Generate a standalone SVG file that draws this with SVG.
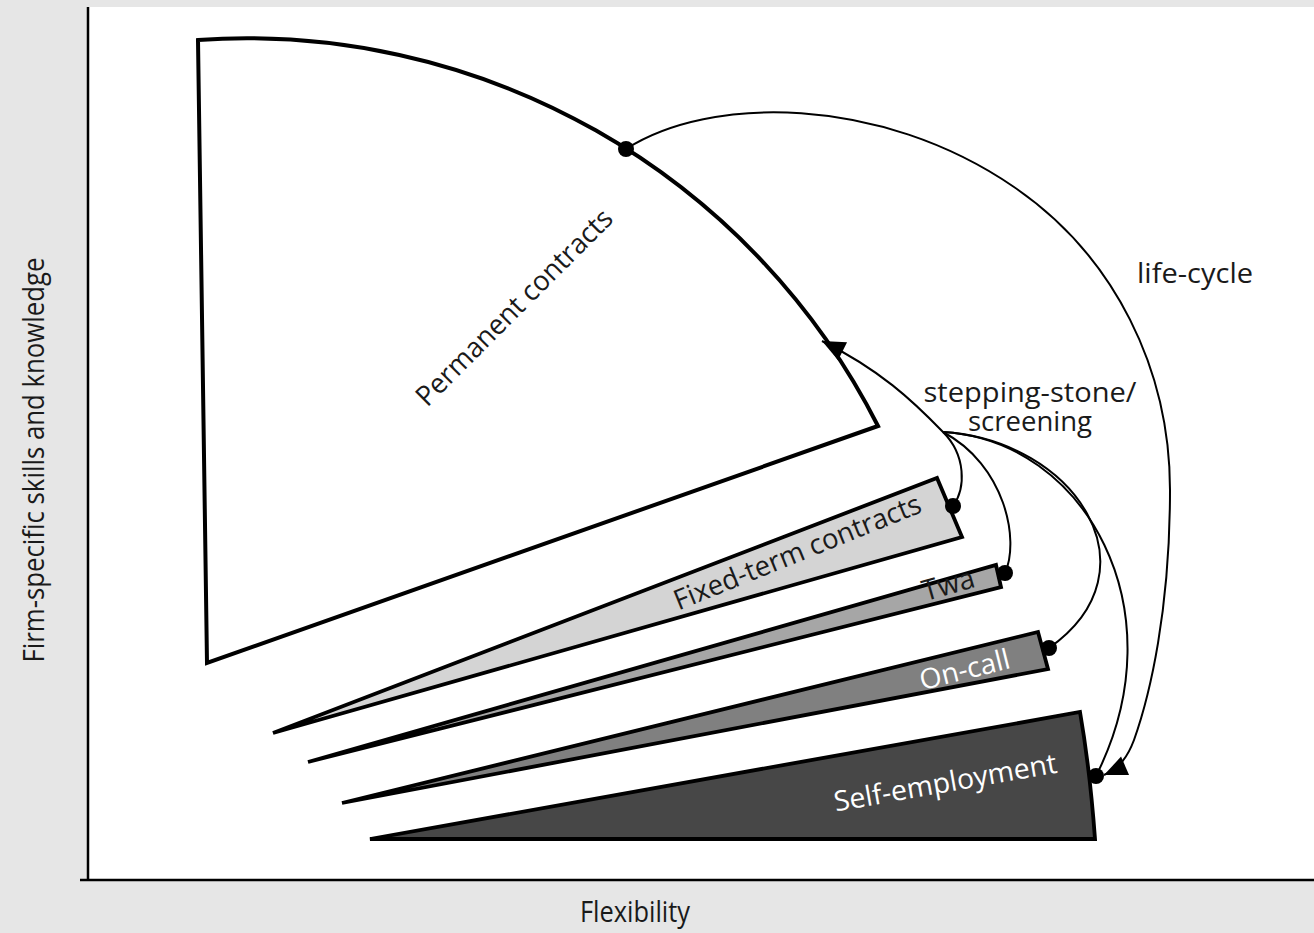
<svg xmlns="http://www.w3.org/2000/svg" width="1314" height="933" viewBox="0 0 1314 933">
<style>
.bg{fill:#e6e6e6}
.plot{fill:#fff}
.axis{stroke:#000;stroke-width:2.5;fill:none}
.shape{stroke:#000;stroke-width:3.8;stroke-linejoin:miter}
.conn{fill:none;stroke:#000;stroke-width:2}
.dot{fill:#000}
text{font-family:"Open Sans","Noto Sans","Liberation Sans",sans-serif;fill:#1a1a1a}
.lbl{font-size:28px}
.ax{font-size:30px}
.wl{fill:#fff}
</style>
<defs>
<marker id="arr" markerUnits="userSpaceOnUse" markerWidth="27" markerHeight="24" viewBox="-25 -12 27 24" refX="0" refY="0" orient="auto">
<path d="M0,0 L-23,-10 L-23,10 Z" fill="#000"/>
</marker>
</defs>
<rect class="bg" x="0" y="0" width="1314" height="933"/>
<rect class="plot" x="88" y="7" width="1226" height="873"/>
<g id="axes">
<line class="axis" x1="88" y1="7" x2="88" y2="880"/>
<line class="axis" x1="80" y1="880" x2="1314" y2="880"/>
<text class="ax" transform="translate(44,460) rotate(-90)" text-anchor="middle" textLength="405" lengthAdjust="spacingAndGlyphs">Firm-specific skills and knowledge</text>
<text class="ax" x="635" y="922" text-anchor="middle" textLength="110" lengthAdjust="spacingAndGlyphs">Flexibility</text>
</g>
<g id="permanent">
<path class="shape" d="M198,40 A708,708 0 0 1 878,426 L207,663 Z" fill="#fff" style="stroke-width:4"/>
<text class="lbl" transform="translate(521,314) rotate(-45)" text-anchor="middle" textLength="265" lengthAdjust="spacingAndGlyphs">Permanent contracts</text>
</g>
<g id="fixed-term">
<polygon class="shape" points="273,733 937,478 962,537" fill="#d4d4d4"/>
<text class="lbl" transform="translate(801,561) rotate(-22)" text-anchor="middle" textLength="264" lengthAdjust="spacingAndGlyphs">Fixed-term contracts</text>
</g>
<g id="twa">
<polygon class="shape" points="308,762 996,565 1001,587" fill="#a6a6a6"/>
<text class="lbl" transform="translate(951,594) rotate(-16)" text-anchor="middle" style="font-size:29px" textLength="53" lengthAdjust="spacingAndGlyphs">Twa</text>
</g>
<g id="on-call">
<polygon class="shape" points="342,803 1038,632 1048,669" fill="#808080"/>
<text class="lbl wl" transform="translate(967,679) rotate(-14)" text-anchor="middle" textLength="92" lengthAdjust="spacingAndGlyphs">On-call</text>
</g>
<g id="self-employment">
<path class="shape" d="M370,839 L1080,712 Q1090,770 1095,839 Z" fill="#474747"/>
<text class="lbl wl" transform="translate(947,792) rotate(-10)" text-anchor="middle" textLength="226" lengthAdjust="spacingAndGlyphs">Self-employment</text>
</g>
<g id="connectors">
<path class="conn" d="M626,149 C710,95 880,95 1014,187 C1115,256 1170,370 1170,490 C1170,610 1150,695 1134,740 C1128,756 1120,768 1104,775" marker-end="url(#arr)"/>
<path class="conn" d="M953,506 C966,488 966,455 943,432 C912,400 880,370 822,341" marker-end="url(#arr)"/>
<path class="conn" d="M1005,573 C1020,540 1005,465 943,432"/>
<path class="conn" d="M1049,648 C1160,570 1075,440 943,432"/>
<path class="conn" d="M1096,776 C1180,610 1085,440 943,432"/>
<circle class="dot" cx="626" cy="149" r="8"/>
<circle class="dot" cx="953" cy="506" r="8"/>
<circle class="dot" cx="1005" cy="573" r="8"/>
<circle class="dot" cx="1049" cy="648" r="8"/>
<circle class="dot" cx="1096" cy="776" r="8"/>
<text class="lbl" x="1137" y="283" textLength="116" lengthAdjust="spacingAndGlyphs">life-cycle</text>
<text class="lbl" x="1030" y="402" text-anchor="middle" style="font-size:27px" textLength="213" lengthAdjust="spacingAndGlyphs">stepping-stone/</text>
<text class="lbl" x="1030" y="431" text-anchor="middle" style="font-size:27px" textLength="124" lengthAdjust="spacingAndGlyphs">screening</text>
</g>
</svg>
